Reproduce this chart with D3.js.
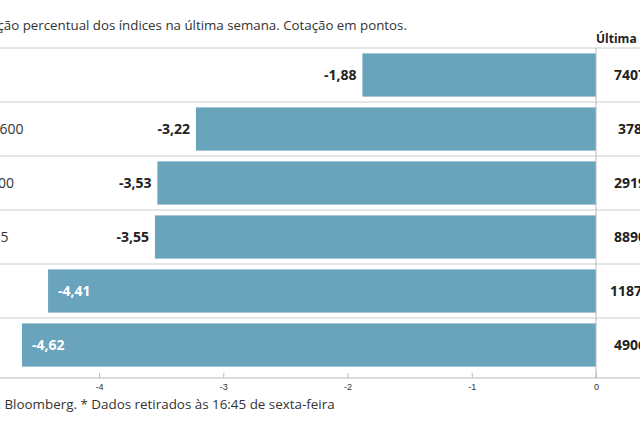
<!DOCTYPE html>
<html><head><meta charset="utf-8">
<script src="https://cdn.jsdelivr.net/npm/d3@7"></script>
<style>body{margin:0;background:#fff}svg{font-family:"Open Sans",sans-serif}</style>
</head><body>
<svg id="c" width="640" height="426"></svg>
<script>
// indices, weekly change (%), last quote
const names = ['FTSE', 'Stoxx 600', 'S&P 500', 'IBEX 35', 'DAX', 'PSI 20'];
const changes = [-1.88, -3.22, -3.53, -3.55, -4.41, -4.62];
const quotes = ['7407,8', '378,2', '2919,9', '8890,1', '11872,4', '4906,3'];
const ticks = [-4, -3, -2, -1, 0];

const svg = d3.select('#c');
const x = d3.scaleLinear().domain([-4, 0]).range([99, 596]);
const y = d3.scaleBand().domain(names).range([48, 372]).paddingInner(0.2).paddingOuter(0.1);
const step = y.step();

svg.append('text').attr('x', -34).attr('y', 30).attr('font-size', 13.3).attr('fill', '#333')
  .text('Variação percentual dos índices na última semana. Cotação em pontos.');
svg.append('text').attr('x', 596).attr('y', 43).attr('font-size', 12).attr('font-weight', 'bold').attr('fill', '#222')
  .text('Última cotação*');

// row separators
svg.selectAll('line.sep').data(names).join('line').attr('class', 'sep')
  .attr('x1', 0).attr('x2', 640)
  .attr('y1', (d, i) => 48 + i * step).attr('y2', (d, i) => 48 + i * step)
  .attr('stroke', '#ccc');

svg.selectAll('rect').data(names).join('rect')
  .attr('x', (d, i) => x(changes[i]))
  .attr('width', (d, i) => x(0) - x(changes[i]))
  .attr('y', d => y(d)).attr('height', y.bandwidth())
  .attr('fill', '#6aa3bc');

svg.append('line').attr('x1', 596).attr('x2', 596).attr('y1', 48).attr('y2', 378).attr('stroke', '#bbb');

// index names
svg.selectAll('text.name').data(names).join('text').attr('class', 'name')
  .attr('x', -40).attr('y', d => y(d) + y.bandwidth() / 2 + 5)
  .attr('font-size', 14).attr('fill', '#333').text(d => d);

// value labels
const fmt = d => d.toFixed(2).replace('.', ',');
svg.selectAll('text.val').data(changes).join('text').attr('class', 'val')
  .attr('x', d => d < -4 ? x(d) + 10 : x(d) - 6)
  .attr('text-anchor', d => d < -4 ? 'start' : 'end')
  .attr('y', (d, i) => y(names[i]) + y.bandwidth() / 2 + 5)
  .attr('font-size', 14).attr('font-weight', 'bold')
  .attr('fill', d => d < -4 ? '#fff' : '#222')
  .text(fmt);

svg.selectAll('text.q').data(quotes).join('text').attr('class', 'q')
  .attr('x', 636).attr('text-anchor', 'middle')
  .attr('y', (d, i) => y(names[i]) + y.bandwidth() / 2 + 5)
  .attr('font-size', 14).attr('font-weight', 'bold').attr('fill', '#222').text(d => d);

// axis
const ax = svg.append('g').attr('transform', 'translate(0,378)')
  .call(d3.axisBottom(x).tickValues(ticks).tickSize(5).tickFormat(d => String(d)));
ax.select('.domain').remove();
svg.append('line').attr('x1', 0).attr('x2', 640).attr('y1', 378).attr('y2', 378).attr('stroke', '#bbb');
ax.selectAll('line').attr('stroke', '#bbb').attr('y1', -5).attr('y2', 0);
ax.selectAll('text').attr('font-size', 9).attr('fill', '#333').attr('y', 6);

svg.append('text').attr('x', -38).attr('y', 409).attr('font-size', 13.4).attr('fill', '#333')
  .text('Fonte: Bloomberg.  * Dados retirados às 16:45 de sexta-feira');
</script>
</body></html>
